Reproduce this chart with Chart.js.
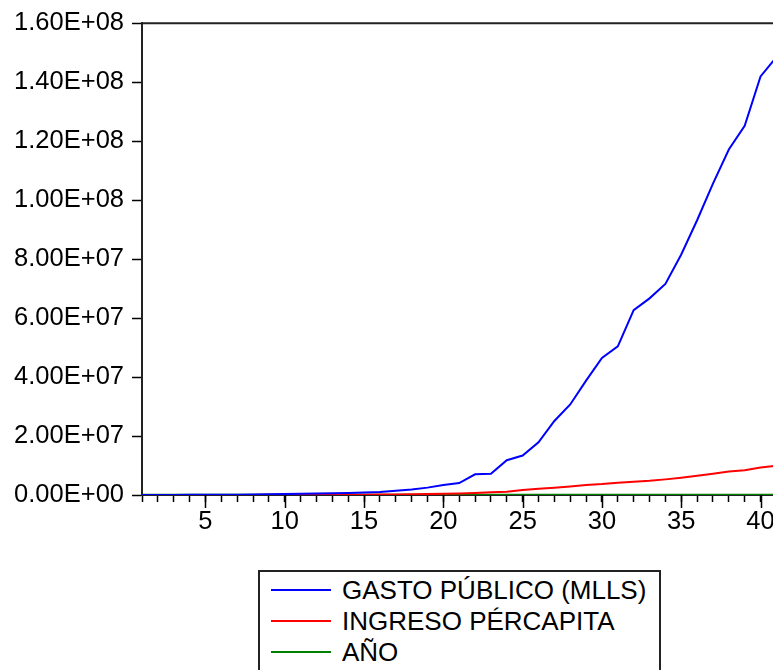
<!DOCTYPE html>
<html>
<head>
<meta charset="utf-8">
<script src="https://cdn.jsdelivr.net/npm/chart.js@4.4.1/dist/chart.umd.min.js"></script>
<style>
  html, body { margin:0; padding:0; background:#fff; overflow:hidden; width:773px; height:670px; }
  #wrap { position:absolute; left:0; top:0; width:790px; height:670px; }
  #legend { position:absolute; left:258px; top:570px; width:399px; height:120px; border:2px solid #222;
            font-family:"Liberation Sans", Arial, sans-serif; font-size:26px; color:#000; background:#fff; }
  .row { position:absolute; left:11px; height:30px; display:flex; align-items:center; white-space:nowrap; }
  .sw { width:60px; height:2px; margin-right:11px; }
</style>
</head>
<body>
<div id="wrap"><canvas id="c" width="790" height="670"></canvas></div>
<div id="legend"></div>
<script>
const obs = [];
for (let i = 1; i <= 41; i++) obs.push(i);
const seriesNames = ["GASTO PÚBLICO (MLLS)", "INGRESO PÉRCAPITA", "AÑO"];
const gasto = [10000, 20000, 30000, 45000, 60000, 80000, 110000, 150000, 220000, 300000,
  400000, 500000, 600000, 700000, 850000, 1000000, 1450000, 1900000, 2500000, 3400000,
  4050000, 7000000, 7200000, 11800000, 13400000, 17900000, 25100000, 30700000, 38800000, 46500000,
  50400000, 62700000, 66700000, 71600000, 81600000, 93200000, 105600000, 117200000, 125200000, 142000000,
  148500000];
const ingreso = [5000, 8000, 10000, 15000, 20000, 25000, 30000, 40000, 50000, 60000,
  70000, 80000, 90000, 100000, 120000, 150000, 200000, 250000, 300000, 400000,
  500000, 700000, 900000, 1100000, 1700000, 2100000, 2500000, 2900000, 3400000, 3700000,
  4150000, 4500000, 4800000, 5300000, 5850000, 6500000, 7200000, 8000000, 8400000, 9300000,
  9900000];
const anio = [1970, 1971, 1972, 1973, 1974, 1975, 1976, 1977, 1978, 1979,
  1980, 1981, 1982, 1983, 1984, 1985, 1986, 1987, 1988, 1989,
  1990, 1991, 1992, 1993, 1994, 1995, 1996, 1997, 1998, 1999,
  2000, 2001, 2002, 2003, 2004, 2005, 2006, 2007, 2008, 2009,
  2010];
const xLabelStep = 5;
const yTicks = [0, 2e7, 4e7, 6e7, 8e7, 1e8, 1.2e8, 1.4e8, 1.6e8];
const colors = ["#0000FF", "#FF0000", "#008000"];

function fmtE(v) {
  const s = Number(v).toExponential(2);
  const [m, e] = s.split("e");
  const sign = e[0] === "-" ? "-" : "+";
  const d = e.replace(/[+-]/, "").padStart(2, "0");
  return m + "E" + sign + d;
}

const pts = arr => arr.map((v, i) => ({ x: obs[i], y: v }));

const decor = {
  id: "decor",
  afterDraw(chart) {
    const ctx = chart.ctx, a = chart.chartArea, xs = chart.scales.x;
    ctx.save();
    ctx.strokeStyle = "#222";
    ctx.lineWidth = 2;
    ctx.beginPath();
    ctx.moveTo(a.left, a.top);
    ctx.lineTo(a.right, a.top);
    ctx.stroke();
    ctx.lineWidth = 1.5;
    ctx.strokeStyle = "#000";
    for (const o of obs) {
      if (o % xLabelStep === 0) {
        const px = Math.round(xs.getPixelForValue(o)) + 0.5;
        ctx.beginPath();
        ctx.moveTo(px, a.bottom);
        ctx.lineTo(px, a.bottom + 13);
        ctx.stroke();
      }
    }
    ctx.restore();
  }
};

const font = { family: "'Liberation Sans', Arial, sans-serif", size: 25.5 };

new Chart(document.getElementById("c"), {
  type: "line",
  data: {
    datasets: [
      { label: seriesNames[0], data: pts(gasto), borderColor: colors[0], borderWidth: 2, pointRadius: 0, tension: 0 },
      { label: seriesNames[1], data: pts(ingreso), borderColor: colors[1], borderWidth: 2, pointRadius: 0, tension: 0 },
      { label: seriesNames[2], data: pts(anio), borderColor: colors[2], borderWidth: 2.5, pointRadius: 0, tension: 0 }
    ]
  },
  options: {
    responsive: false,
    animation: false,
    events: [],
    layout: { padding: { top: 21, right: 13.6, bottom: 135, left: 0 } },
    plugins: { legend: { display: false }, tooltip: { enabled: false } },
    scales: {
      x: {
        type: "linear",
        min: 1, max: 41,
        afterFit(s) { s.height = 40; },
        border: { display: true, color: "#222", width: 2 },
        grid: { drawOnChartArea: false, drawTicks: true, tickLength: 7, color: "#000", tickColor: "#000", tickWidth: 1.5 },
        afterBuildTicks(s) { s.ticks = obs.map(v => ({ value: v })); },
        ticks: {
          autoSkip: false, maxRotation: 0, padding: 5, color: "#000", font,
          callback: v => (v % xLabelStep === 0 ? String(v) : "")
        }
      },
      y: {
        min: 0, max: 1.6e8,
        afterFit(s) { s.width = 142; },
        afterBuildTicks(s) { s.ticks = yTicks.map(v => ({ value: v })); },
        border: { display: true, color: "#222", width: 2 },
        grid: { drawOnChartArea: false, drawTicks: true, tickLength: 10, color: "#000", tickColor: "#000", tickWidth: 1.5 },
        ticks: { padding: 8, color: "#000", font, callback: v => fmtE(v) }
      }
    }
  },
  plugins: [decor]
});

const lg = document.getElementById("legend");
seriesNames.forEach((n, i) => {
  const r = document.createElement("div");
  r.className = "row";
  r.style.top = (3 + i * 31) + "px";
  const sw = document.createElement("span");
  sw.className = "sw";
  sw.style.background = colors[i];
  const t = document.createElement("span");
  t.textContent = n;
  r.appendChild(sw); r.appendChild(t);
  lg.appendChild(r);
});
</script>
</body>
</html>
